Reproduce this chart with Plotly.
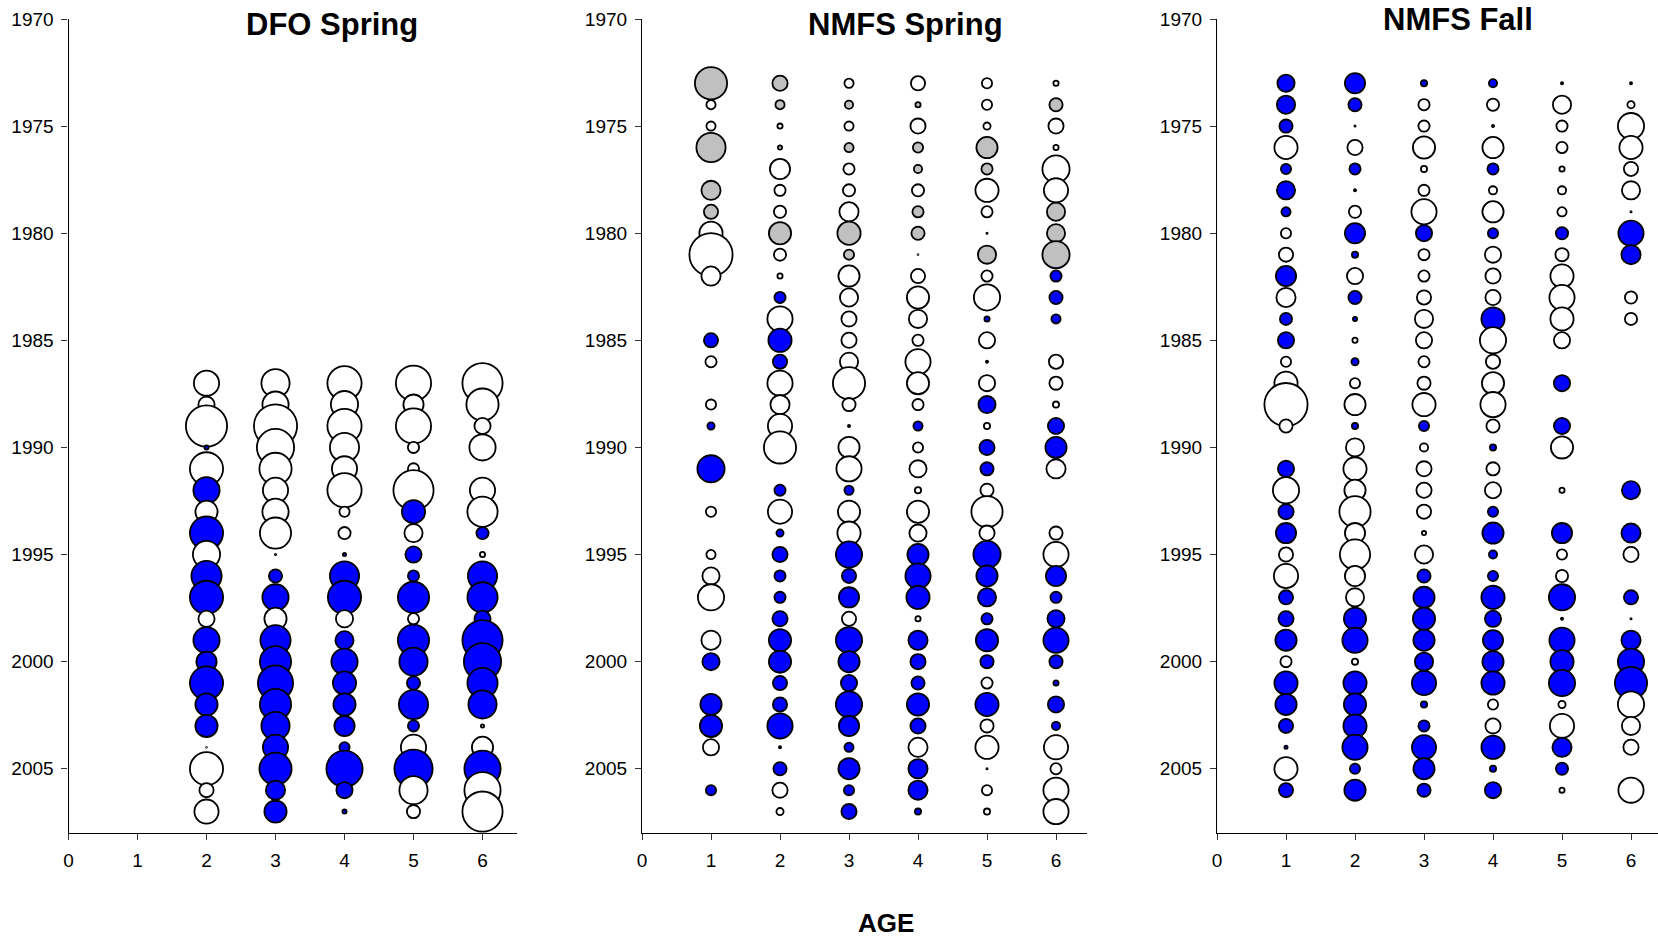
import plotly.graph_objects as go

# ---------------- DATA ----------------
# bubble magnitude (visual units) per year; colour code: b = blue, w = white, g = grey, . = no bubble
dfo_years = list(range(1987, 2008))
dfo_a2 = [27, 18, 43, 6, 35, 28, 24, 35, 29, 32, 35, 18, 28, 22, 35, 24, 24, 2, 35, 16, 26]
dfo_c2 = "wwwbwbwbwbbwbbbbbwwww"
dfo_a3 = [30, 28, 45, 39, 34, 27, 28, 33, 3, 15, 28, 24, 32, 33, 37, 33, 30, 27, 34, 21, 24]
dfo_c3 = "wwwwwwwwwbbwbbbbbbbbb"
dfo_a4 = [36, 29, 36, 31, 27, 36, 12, 14, 5, 31, 35, 19, 20, 28, 25, 24, 22, 12, 38, 18, 6]
dfo_c4 = "wwwwwwwwbbbwbbbbbbbbb"
dfo_a5 = [37, 22, 37, 13, 13, 42, 25, 20, 18, 13, 33, 13, 33, 30, 15, 31, 13, 27, 40, 30, 15]
dfo_c5 = "wwwwwwbwbbbwbbbbbwbww"
dfo_a6 = [42, 34, 18, 28, None, 27, 32, 14, 7, 31, 32, 18, 42, 39, 32, 30, 5, 23, 38, 38, 42]
dfo_c6 = "wwww.wwbwbbbbbbbwwbww"

nmfs_years = list(range(1973, 2008))
ns_a1 = [34, 11, 11, 31, None, 21, 16, 25, 45, 21, None, None, 16, 13, None, 12, 9, None, 29, None,
         12, None, 11, 19, 28, None, 21, 19, None, 23, 24, 18, None, 12, None]
ns_c1 = "gwwg.ggwww..bw.wb.b.w.www.wb.bbw.b."
ns_a2 = [17, 11, 7, 6, 22, 13, 14, 24, 14, 7, 13, 27, 25, 16, 27, 21, 26, 34, None, 13,
         26, 9, 17, 13, 13, 17, 24, 24, 16, 16, 27, 4, 15, 17, 9]
ns_c2 = "ggwgwwwgwwbwbbwwww.bwbbbbbbbbbbbbww"
ns_a3 = [11, 10, 11, 11, 13, 14, 21, 25, 12, 23, 20, 17, 17, 20, 34, 15, 4, 23, 27, 11,
         24, 25, 28, 16, 22, 16, 28, 23, 18, 28, 22, 11, 23, 12, 17]
ns_c3 = "wgwgwwwggwwwwwwwbwwbwwbbbwbbbbbbbbb"
ns_a4 = [16, 7, 17, 12, 10, 14, 13, 15, 2, 16, 24, 20, 13, 27, 24, 13, 11, 12, 19, 8,
         24, 19, 23, 27, 25, 7, 21, 17, 15, 24, 17, 21, 21, 21, 8]
ns_c4 = "wgwggwggwwwwwwwwbwwwwwbbbwbbbbbwbbb"
ns_a5 = [12, 12, 9, 23, 13, 25, 13, 3, 20, 13, 28, 7, 18, 4, 18, 19, 8, 17, 15, 15,
         33, 17, 29, 23, 20, 13, 24, 15, 13, 25, 15, 25, 3, 12, 8]
ns_c5 = "wwwggwwwgwwbwbwbwbbwwwbbbbbbwbwwwww"
ns_a6 = [7, 15, 17, 7, 29, 26, 20, 20, 29, 13, 15, 11, None, 16, 15, 8, 18, 23, 21, None,
         None, 15, 27, 22, 13, 19, 27, 15, 7, 18, 10, 26, 13, 27, 27]
ns_c6 = "wgwwwwgggbbb.wwwbbw..wwbbbbbbbbwwww"

nf_a1 = [19, 20, 15, 25, 12, 20, 11, 12, 16, 22, 21, 14, 18, 12, 25, 45, 15, None, 18, 28,
         17, 22, 16, 26, 16, 17, 23, 13, 25, 23, 16, 5, 25, 16, None]
nf_c1 = "bbbwbbbwwbwbbwwww.bwbbwwbbbwbbbbwb."
nf_a2 = [22, 15, 3, 17, 13, 4, 14, 22, 8, 18, 15, 6, 7, 9, 12, 23, 8, 20, 25, 23,
         33, 22, 32, 22, 20, 24, 27, 8, 25, 24, 25, 27, 12, 23, None]
nf_c2 = "bbwwbbwbbwbbwbwwbwwwwwwwwbbwbbbbbb."
nf_a3 = [8, 13, 13, 24, 8, 13, 27, 18, 13, 13, 16, 20, 18, 13, 15, 25, 12, 10, 17, 17,
         16, 6, 20, 15, 23, 24, 23, 20, 26, 8, 13, 26, 23, 15, None]
nf_c3 = "bwwwwwwbwwwwwwwwbwwwwwwbbbbbbbbbbb."
nf_a4 = [10, 14, 4, 23, 13, 10, 23, 12, 18, 17, 17, 25, 28, 16, 24, 27, 15, 8, 15, 18,
         12, 23, 10, 12, 25, 18, 22, 23, 25, 12, 17, 25, 8, 18, None]
nf_c4 = "bwbwbwwbwwwbwwwwwbwwbbbbbbbbbwwbbb."
nf_a5 = [4, 20, 13, 13, 7, 10, 11, 14, 15, 25, 27, 25, 18, None, 18, None, 18, 24, None, 7,
         None, 22, 12, 14, 28, 4, 27, 25, 28, 9, 26, 21, 14, 7, None]
nf_c5 = "bwwwwwwbwwwww.b.bw.w.bwwbbbbbwwbbw."
nf_a6 = [4, 9, 28, 25, 16, 20, 3, 27, 21, None, 14, 14, None, None, None, None, None, None, None, 20,
         None, 21, 17, None, 16, 3, 21, 28, 34, 28, 20, 17, None, 27, None]
nf_c6 = "bwwwwwwbb.ww.......b.bw.bwbbbwww.w."

ages = [1, 2, 3, 4, 5, 6]
year_ticks = [1970, 1975, 1980, 1985, 1990, 1995, 2000, 2005]
panel_titles = ["DFO Spring", "NMFS Spring", "NMFS Fall"]
x_title = "AGE"

# ---------------- STYLE ----------------
COLORS = {"b": "#0000FF", "w": "#FFFFFF", "g": "#C0C0C0"}
LINE_W = 1.8
FONT = "Arial, Liberation Sans, sans-serif"

panels = [
    (dfo_years, {2: (dfo_a2, dfo_c2), 3: (dfo_a3, dfo_c3), 4: (dfo_a4, dfo_c4),
                 5: (dfo_a5, dfo_c5), 6: (dfo_a6, dfo_c6)}),
    (nmfs_years, {1: (ns_a1, ns_c1), 2: (ns_a2, ns_c2), 3: (ns_a3, ns_c3),
                  4: (ns_a4, ns_c4), 5: (ns_a5, ns_c5), 6: (ns_a6, ns_c6)}),
    (nmfs_years, {1: (nf_a1, nf_c1), 2: (nf_a2, nf_c2), 3: (nf_a3, nf_c3),
                  4: (nf_a4, nf_c4), 5: (nf_a5, nf_c5), 6: (nf_a6, nf_c6)}),
]

W, H = 1658, 937
px_per_age = 69.0
x_left = [68.5, 642, 1217]
x_right = [517, 1087, 1658]
y_top, y_bot = 19, 833

fig = go.Figure()
for p, (years, cols) in enumerate(panels):
    xa = "x" if p == 0 else f"x{p+1}"
    ya = "y" if p == 0 else f"y{p+1}"
    for age, (sizes, codes) in cols.items():
        xs, ys, ss, cs = [], [], [], []
        for yr, s, c in zip(years, sizes, codes):
            if s is None or c == ".":
                continue
            xs.append(age)
            ys.append(yr)
            ss.append(max(s - LINE_W, 0.8))
            cs.append(COLORS[c])
        fig.add_trace(go.Scatter(
            x=xs, y=ys, mode="markers", xaxis=xa, yaxis=ya, cliponaxis=False,
            marker=dict(size=ss, sizemode="diameter", color=cs, opacity=1,
                        line=dict(color="black", width=LINE_W)),
            hoverinfo="skip", showlegend=False))

layout = dict(width=W, height=H, margin=dict(l=0, r=0, t=0, b=0, pad=0, autoexpand=False),
              paper_bgcolor="white", plot_bgcolor="white", showlegend=False,
              font=dict(family=FONT, color="black", size=19))
for p in range(3):
    sx = "" if p == 0 else str(p + 1)
    d0, d1 = x_left[p] / W, x_right[p] / W
    rng = (x_right[p] - x_left[p]) / px_per_age
    layout[f"xaxis{sx}"] = dict(
        domain=[d0, d1], range=[0, rng], anchor=f"y{sx}", tickvals=[0] + ages,
        ticks="outside", ticklen=6, tickcolor="#333", showline=True, linecolor="black",
        linewidth=1.2, showgrid=False, zeroline=False, tickfont=dict(size=19),
        ticklabelstandoff=4, fixedrange=True, automargin=False)
    layout[f"yaxis{sx}"] = dict(
        domain=[1 - y_bot / H, 1 - y_top / H], range=[2008, 1970], anchor=f"x{sx}",
        tickvals=year_ticks, ticks="outside", ticklen=6, tickcolor="#333",
        showline=True, linecolor="black", linewidth=1.2, showgrid=False, zeroline=False,
        tickfont=dict(size=19), ticklabelstandoff=4, fixedrange=True, automargin=False)

fig.update_layout(**layout)

title_pos = [(332, 25), (906, 25), (1458, 19)]
for t, (tx, ty) in zip(panel_titles, title_pos):
    fig.add_annotation(text=f"<b>{t}</b>", x=tx / W, y=1 - ty / H, xref="paper", yref="paper",
                       showarrow=False, font=dict(size=31, family=FONT, color="black"),
                       xanchor="center", yanchor="middle")
fig.add_annotation(text=f"<b>{x_title}</b>", x=886 / W, y=1 - 923 / H, xref="paper", yref="paper",
                   showarrow=False, font=dict(size=26, family=FONT, color="black"),
                   xanchor="center", yanchor="middle")

fig.write_html("out.html")
